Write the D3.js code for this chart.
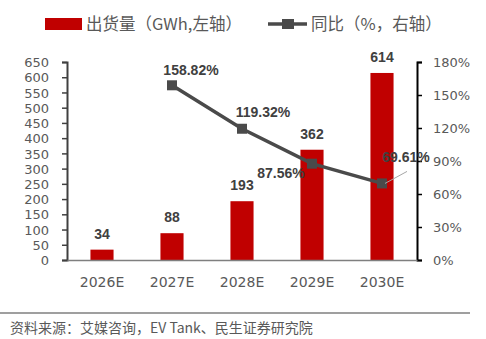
<!DOCTYPE html>
<html>
<head>
<meta charset="utf-8">
<script src="https://cdn.jsdelivr.net/npm/d3@7"></script>
<style>
  html, body { margin: 0; padding: 0; background: #fff; }
  svg { display: block; }
</style>
</head>
<body>
<svg id="chart" width="486" height="339"></svg>
<script>
// Shipments (GWh, left axis) and YoY growth (%, right axis)
const categories = ["2026E", "2027E", "2028E", "2029E", "2030E"];
const shipments = [34, 88, 193, 362, 614];
const growthYears = ["2027E", "2028E", "2029E", "2030E"];
const growth = [158.82, 119.32, 87.56, 69.61];
const leftTicks = d3.range(0, 651, 50);
const rightTicks = [0, 30, 60, 90, 120, 150, 180];

const svg = d3.select("#chart");
const plot = { left: 67, right: 417, top: 62, bottom: 260 };

const tickFont = "'DejaVu Sans', sans-serif";
const labelFont = "'Liberation Sans', Arial, sans-serif";
const cjkFont = "'Noto Sans CJK SC', 'Noto Sans', sans-serif";
const textGray = "#595959";
const barColor = "#c00000";
const lineColor = "#4a4a4a";

const x = d3.scaleBand().domain(categories).range([plot.left, plot.right]).paddingInner(0.67).paddingOuter(0.335);
const xc = d => x(d) + x.bandwidth() / 2;
const yL = d3.scaleLinear().domain([0, 650]).range([plot.bottom, plot.top]);
const yR = d3.scaleLinear().domain([0, 180]).range([plot.bottom, plot.top]);

// Bars
svg.append("g").selectAll("rect").data(categories).join("rect")
  .attr("x", d => x(d))
  .attr("width", x.bandwidth())
  .attr("y", (d, i) => yL(shipments[i]))
  .attr("height", (d, i) => yL(0) - yL(shipments[i]))
  .attr("fill", barColor);

// Left axis
const gL = svg.append("g").attr("transform", `translate(${plot.left},0)`)
  .call(d3.axisLeft(yL).tickValues(leftTicks).tickSize(5).tickPadding(13));
gL.select(".domain").attr("stroke", "#404040").attr("stroke-width", 2);
gL.selectAll(".tick line").attr("stroke", "#404040").attr("stroke-width", 1.5);
gL.selectAll(".tick text").attr("font-family", tickFont).attr("font-size", 13).attr("fill", textGray).attr("dy", "0.36em");

// Right axis
const gR = svg.append("g").attr("transform", `translate(${plot.right},0)`)
  .call(d3.axisRight(yR).tickValues(rightTicks).tickFormat(d => d + "%").tickSize(5).tickPadding(11));
gR.select(".domain").attr("stroke", "#000").attr("stroke-width", 2);
gR.selectAll(".tick line").attr("stroke", "#000").attr("stroke-width", 1.5);
gR.selectAll(".tick text").attr("font-family", tickFont).attr("font-size", 13).attr("fill", textGray).attr("dy", "0.36em");

// Bottom axis
const gB = svg.append("g").attr("transform", `translate(0,${plot.bottom})`)
  .call(d3.axisBottom(x).tickSize(0).tickPadding(17));
gB.select(".domain").attr("stroke", "#7f7f7f").attr("stroke-width", 1.5);
gB.selectAll(".tick text").attr("font-family", tickFont).attr("font-size", 14).attr("fill", textGray);

// Bar value labels
svg.append("g").selectAll("text").data(categories).join("text")
  .attr("x", d => xc(d))
  .attr("y", (d, i) => yL(shipments[i]) - 11)
  .attr("text-anchor", "middle")
  .attr("font-family", labelFont).attr("font-weight", "bold").attr("font-size", 14)
  .attr("fill", "#404040")
  .text((d, i) => shipments[i]);

// Growth line
const pts = growthYears.map((c, i) => [xc(c), yR(growth[i])]);
svg.append("path")
  .attr("d", d3.line()(pts))
  .attr("fill", "none").attr("stroke", lineColor).attr("stroke-width", 3.5);
svg.append("g").selectAll("rect").data(pts).join("rect")
  .attr("x", d => d[0] - 5).attr("y", d => d[1] - 5)
  .attr("width", 10).attr("height", 10)
  .attr("fill", lineColor);

// Growth labels (offsets per point)
const gOff = [[19, -10], [21, -12], [-31, 14], [24, -21]];
// leader line for the last label
const last = pts[pts.length - 1];
svg.append("line")
  .attr("x1", last[0] + 3).attr("y1", last[1])
  .attr("x2", last[0] + 25).attr("y2", last[1] - 12)
  .attr("stroke", "#a6a6a6").attr("stroke-width", 1);
svg.append("g").selectAll("text").data(pts).join("text")
  .attr("x", (d, i) => d[0] + gOff[i][0])
  .attr("y", (d, i) => d[1] + gOff[i][1])
  .attr("text-anchor", "middle")
  .attr("font-family", labelFont).attr("font-weight", "bold").attr("font-size", 14)
  .attr("fill", "#404040")
  .text((d, i) => growth[i].toFixed(2) + "%");

// Legend
const lg = svg.append("g");
lg.append("rect").attr("x", 45).attr("y", 18).attr("width", 37).attr("height", 12).attr("fill", barColor);
lg.append("text").attr("x", 86).attr("y", 30)
  .attr("font-family", cjkFont).attr("font-size", 16.5).attr("fill", textGray)
  .text("出货量（GWh,左轴）");
lg.append("line").attr("x1", 268).attr("x2", 307).attr("y1", 24).attr("y2", 24)
  .attr("stroke", lineColor).attr("stroke-width", 3.5);
lg.append("rect").attr("x", 282).attr("y", 19).attr("width", 12).attr("height", 10).attr("fill", lineColor);
lg.append("text").attr("x", 311).attr("y", 30)
  .attr("font-family", cjkFont).attr("font-size", 16.5).attr("fill", textGray)
  .text("同比（%，右轴）");

// Source note
svg.append("line").attr("x1", 0).attr("x2", 470).attr("y1", 313).attr("y2", 313)
  .attr("stroke", "#7f7f7f").attr("stroke-width", 1.5);
svg.append("text").attr("x", 10).attr("y", 333)
  .attr("font-family", cjkFont).attr("font-size", 14).attr("fill", textGray)
  .text("资料来源：艾媒咨询，EV Tank、民生证券研究院");
</script>
</body>
</html>
